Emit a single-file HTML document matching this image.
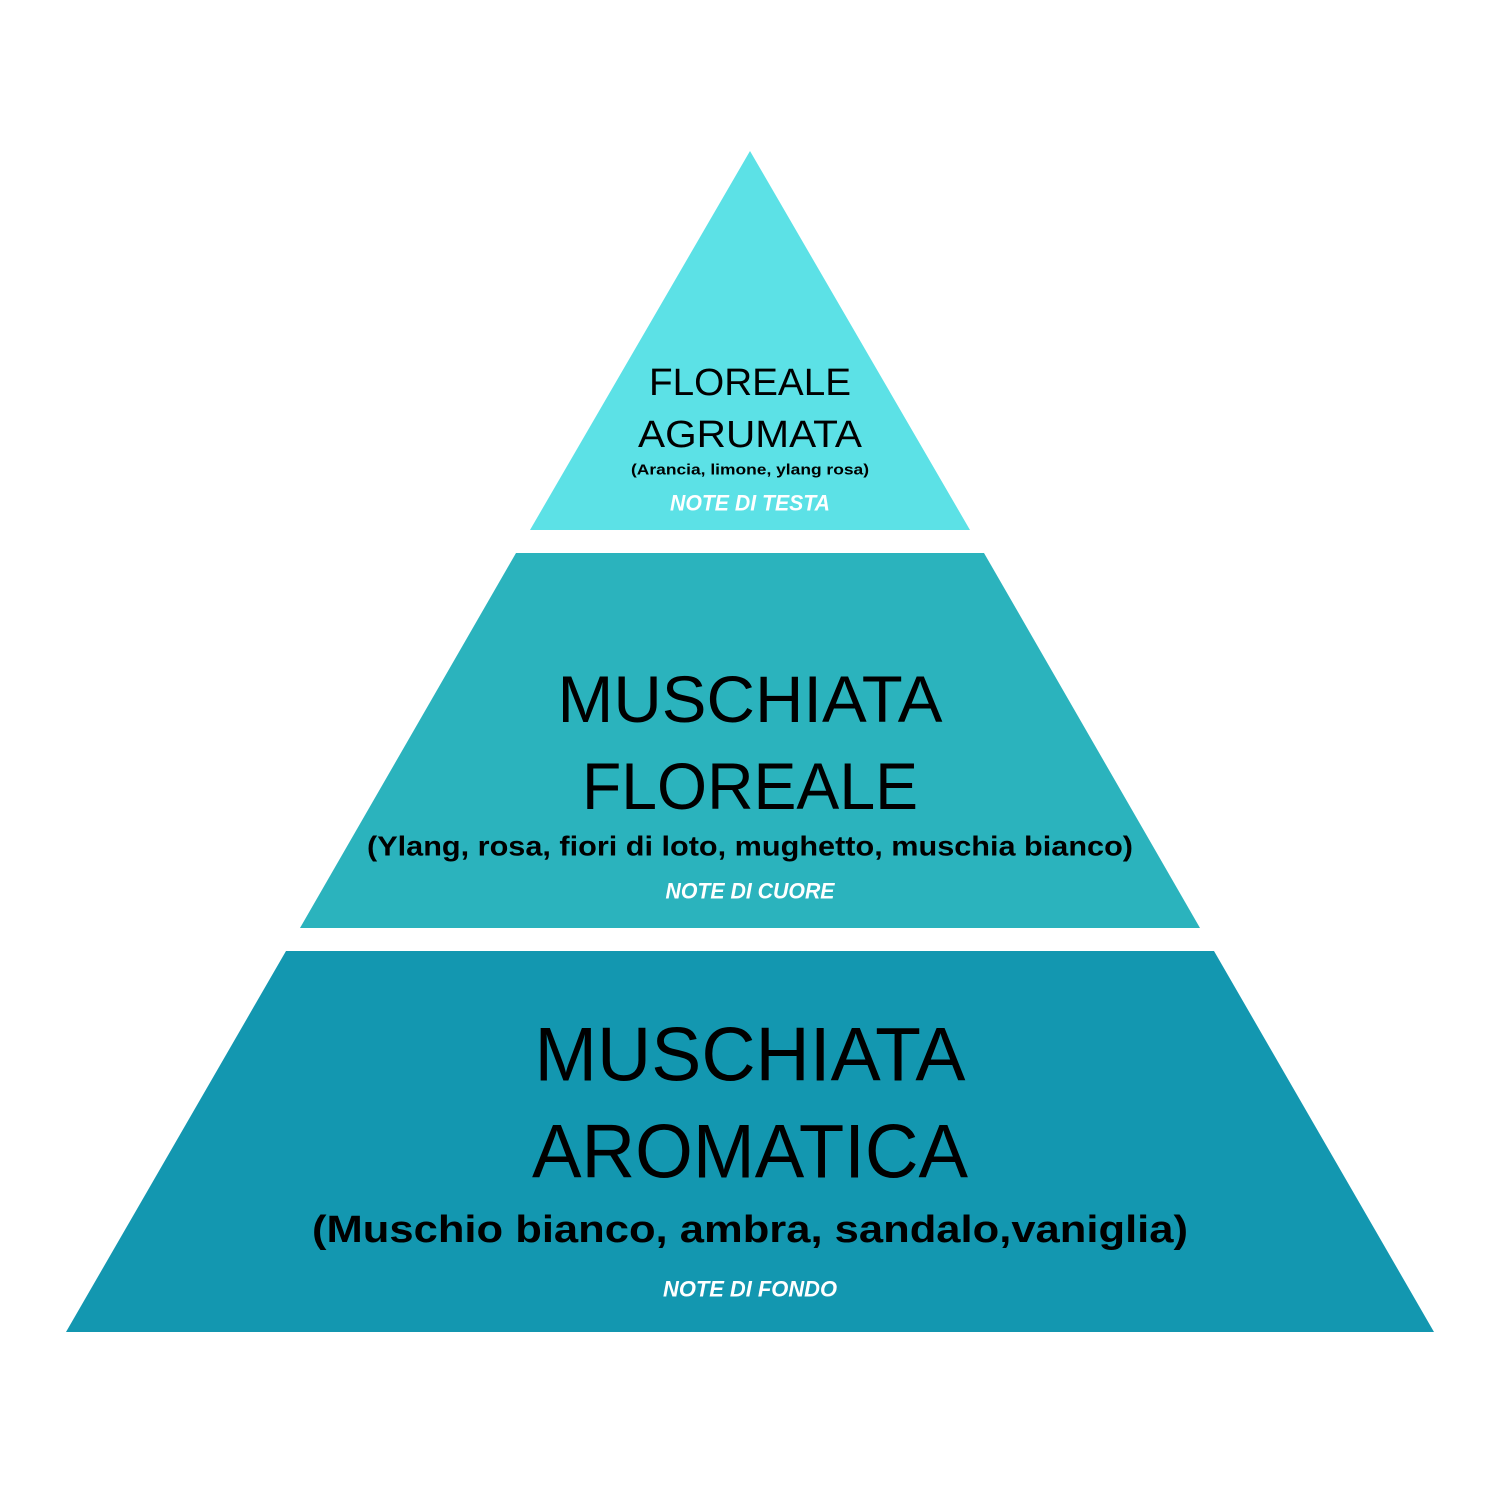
<!DOCTYPE html>
<html><head><meta charset="utf-8"><style>
html,body{margin:0;padding:0;background:#fff}
svg{display:block}
text{font-family:"Liberation Sans",sans-serif;text-anchor:middle;dominant-baseline:central}
.t{fill:#000}
.b{font-weight:bold;fill:#000}
.n{font-weight:bold;font-style:italic;fill:#fff}
</style></head><body>
<svg width="1500" height="1500" viewBox="0 0 1500 1500">
<rect width="1500" height="1500" fill="#fff"/>
<polygon points="750,151 970,530 530,530" fill="#5ce1e6"/>
<polygon points="516,553 984,553 1200,928 300,928" fill="#2bb3bd"/>
<polygon points="286,951 1214,951 1434,1332 66,1332" fill="#1397b0"/>

<text class="t" x="750" y="383" font-size="38" textLength="202" lengthAdjust="spacingAndGlyphs">FLOREALE</text>
<text class="t" x="750" y="435" font-size="38" textLength="224" lengthAdjust="spacingAndGlyphs">AGRUMATA</text>
<text class="b" x="750" y="470" font-size="15" textLength="238" lengthAdjust="spacingAndGlyphs">(Arancia, limone, ylang rosa)</text>
<text class="n" x="750" y="503" font-size="22" textLength="160" lengthAdjust="spacingAndGlyphs">NOTE DI TESTA</text>

<text class="t" x="750" y="699" font-size="66" textLength="385" lengthAdjust="spacingAndGlyphs">MUSCHIATA</text>
<text class="t" x="750" y="786" font-size="66" textLength="336" lengthAdjust="spacingAndGlyphs">FLOREALE</text>
<text class="b" x="750" y="846" font-size="28" textLength="766" lengthAdjust="spacingAndGlyphs">(Ylang, rosa, fiori di loto, mughetto, muschia bianco)</text>
<text class="n" x="750" y="891" font-size="22" textLength="169" lengthAdjust="spacingAndGlyphs">NOTE DI CUORE</text>

<text class="t" x="750" y="1055" font-size="76" textLength="431" lengthAdjust="spacingAndGlyphs">MUSCHIATA</text>
<text class="t" x="750" y="1152" font-size="76" textLength="436" lengthAdjust="spacingAndGlyphs">AROMATICA</text>
<text class="b" x="750" y="1230" font-size="38" textLength="876" lengthAdjust="spacingAndGlyphs">(Muschio bianco, ambra, sandalo,vaniglia)</text>
<text class="n" x="750" y="1289" font-size="22" textLength="174" lengthAdjust="spacingAndGlyphs">NOTE DI FONDO</text>
</svg>
</body></html>
